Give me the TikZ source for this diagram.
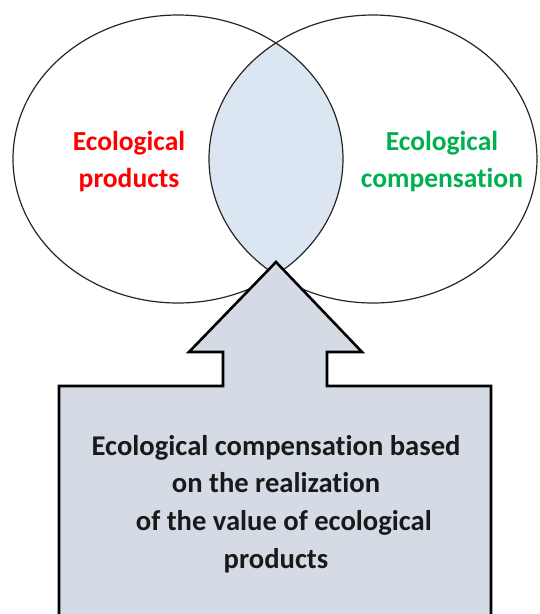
\documentclass[tikz,border=0pt]{standalone}
\usepackage{fontspec}
\setmainfont{Carlito}[Ligatures={NoCommon}]
\definecolor{lensblue}{HTML}{DCE6F2}
\definecolor{arrowfill}{HTML}{D5DBE5}
\definecolor{ecored}{HTML}{FF0000}
\definecolor{ecogreen}{HTML}{00B050}
\definecolor{ringline}{HTML}{262626}
\begin{document}
\begin{tikzpicture}[x=1pt,y=-1pt,
  ring/.style={draw=ringline,line width=1.2pt},
  label/.style={font=\fontsize{27.5}{37}\selectfont\bfseries,align=center,inner sep=0pt},
  boxlabel/.style={font=\fontsize{28.6}{37.7}\selectfont\bfseries,align=center,inner sep=0pt},
  arrowbox/.style={draw=black,line width=2.6pt,fill=arrowfill,line join=miter}]
\useasboundingbox (0,0) rectangle (539,614);
\clip (0,0) rectangle (539,614);
% shared area of the two sets
\begin{scope}
  \clip (178,159) ellipse [x radius=165, y radius=144];
  \fill[lensblue] (373,159) ellipse [x radius=164, y radius=144];
\end{scope}
% the two sets
\draw[ring] (178,159) ellipse [x radius=165, y radius=144];
\draw[ring] (373,159) ellipse [x radius=164, y radius=144];
% set labels
\node[label,text=ecored] (products) at (129,162) {Ecological\\products};
\node[label,text=ecogreen] (compensation) at (442,162) {Ecological\\compensation};
% arrow pointing up into the shared area
\draw[arrowbox] (276,262) -- (362,352) -- (327,352) -- (327,386) -- (491,386)
  -- (491,640) -- (59,640) -- (59,386) -- (223,386) -- (223,352) -- (189,352) -- cycle;
\node[boxlabel,text=black!90] (basis) at (276,504)
  {Ecological compensation based\\on the realization\\\hspace*{0.55em}of the value of ecological\\products};
\end{tikzpicture}
\end{document}
